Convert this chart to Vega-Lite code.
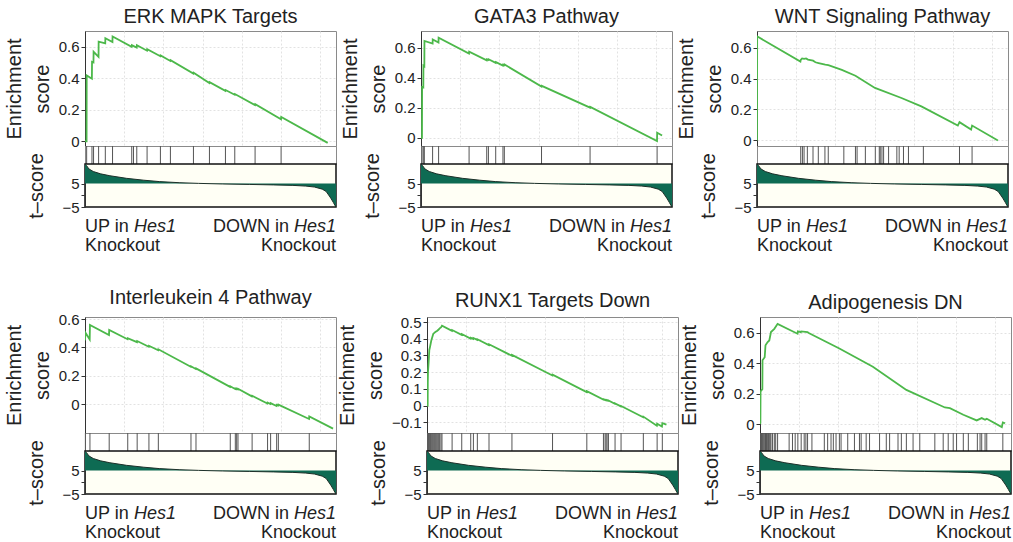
{
"$schema": "https://vega.github.io/schema/vega-lite/v6.json",
"background": "white",
"padding": {"left": 3, "top": 6, "right": 0, "bottom": 0},
"spacing": 31,
"config": {
  "font": "Liberation Sans",
  "view": {"stroke": "#8a8a8a"},
  "title": {"fontSize": 20, "fontWeight": "normal", "offset": 4, "color": "#222", "font": "Liberation Sans"},
  "axis": {"labelFont": "Liberation Sans", "labelFontSize": 15, "labelColor": "#222", "titleFont": "Liberation Sans", "titleFontSize": 20, "titleFontWeight": "normal", "titleColor": "#222", "tickColor": "#333", "tickSize": 4, "domainColor": "#333", "gridColor": "#e2e2e2", "gridDash": [2, 2], "labelPadding": 2},
  "text": {"font": "Liberation Sans", "fontSize": 18, "color": "#222"}
},
"datasets": {
  "labels": [{"k":"L1","t":"UP in","line":1},{"k":"L1i","t":"Hes1","line":1},{"k":"L2","t":"Knockout","line":2},{"k":"R1","t":"DOWN in","line":1},{"k":"R1i","t":"Hes1","line":1},{"k":"R2","t":"Knockout","line":2}],
  "tscore": [{"x":0,"t":13.3},{"x":40,"t":12.6},{"x":100,"t":11.2},{"x":211,"t":10.1},{"x":400,"t":9.1},{"x":635,"t":8.3},{"x":1059,"t":7.2},{"x":1500,"t":6.4},{"x":1905,"t":5.8},{"x":2400,"t":5.35},{"x":2900,"t":5.05},{"x":3500,"t":4.8},{"x":4200,"t":4.6},{"x":4800,"t":4.4},{"x":5300,"t":4.2},{"x":5630,"t":3.9},{"x":5850,"t":3.5},{"x":6050,"t":2.6},{"x":6150,"t":1.6},{"x":6266,"t":-1.2},{"x":6330,"t":-3},{"x":6380,"t":-4.5},{"x":6400,"t":-5}],
  "es": [
{"p":1,"x":0,"y":0},{"p":1,"x":40,"y":0},{"p":1,"x":43,"y":0.418},{"p":1,"x":176,"y":0.397},{"p":1,"x":179,"y":0.504},{"p":1,"x":216,"y":0.5},{"p":1,"x":219,"y":0.568},{"p":1,"x":345,"y":0.536},{"p":1,"x":348,"y":0.633},{"p":1,"x":516,"y":0.622},{"p":1,"x":519,"y":0.654},{"p":1,"x":700,"y":0.63},{"p":1,"x":703,"y":0.665},{"p":1,"x":1190,"y":0.6},{"p":1,"x":1195,"y":0.61},{"p":1,"x":1318,"y":0.595},{"p":1,"x":1323,"y":0.61},{"p":1,"x":1581,"y":0.575},{"p":1,"x":1586,"y":0.585},{"p":1,"x":1921,"y":0.54},{"p":1,"x":1926,"y":0.545},{"p":1,"x":2176,"y":0.51},{"p":1,"x":2181,"y":0.515},{"p":1,"x":2763,"y":0.43},{"p":1,"x":2768,"y":0.435},{"p":1,"x":3171,"y":0.37},{"p":1,"x":3176,"y":0.375},{"p":1,"x":3579,"y":0.32},{"p":1,"x":3584,"y":0.325},{"p":1,"x":3817,"y":0.295},{"p":1,"x":3822,"y":0.3},{"p":1,"x":4335,"y":0.23},{"p":1,"x":4340,"y":0.235},{"p":1,"x":4998,"y":0.14},{"p":1,"x":5003,"y":0.155},{"p":1,"x":6188,"y":-0.01},
{"p":2,"x":0,"y":0},{"p":2,"x":25,"y":0},{"p":2,"x":28,"y":0.338},{"p":2,"x":59,"y":0.335},{"p":2,"x":62,"y":0.48},{"p":2,"x":85,"y":0.475},{"p":2,"x":88,"y":0.644},{"p":2,"x":296,"y":0.626},{"p":2,"x":299,"y":0.654},{"p":2,"x":446,"y":0.633},{"p":2,"x":449,"y":0.666},{"p":2,"x":1224,"y":0.56},{"p":2,"x":1228,"y":0.572},{"p":2,"x":1676,"y":0.515},{"p":2,"x":1680,"y":0.522},{"p":2,"x":1719,"y":0.517},{"p":2,"x":1723,"y":0.522},{"p":2,"x":1905,"y":0.498},{"p":2,"x":1910,"y":0.503},{"p":2,"x":2090,"y":0.48},{"p":2,"x":2094,"y":0.486},{"p":2,"x":2125,"y":0.482},{"p":2,"x":2129,"y":0.487},{"p":2,"x":3073,"y":0.34},{"p":2,"x":3078,"y":0.345},{"p":2,"x":4311,"y":0.2},{"p":2,"x":4315,"y":0.205},{"p":2,"x":6018,"y":-0.022},{"p":2,"x":6022,"y":0.033},{"p":2,"x":6147,"y":0.015},
{"p":3,"x":0,"y":0},{"p":3,"x":4,"y":0.672},{"p":3,"x":1107,"y":0.51},{"p":3,"x":1115,"y":0.52},{"p":3,"x":1150,"y":0.53},{"p":3,"x":1200,"y":0.527},{"p":3,"x":1250,"y":0.53},{"p":3,"x":1300,"y":0.522},{"p":3,"x":1430,"y":0.515},{"p":3,"x":1490,"y":0.505},{"p":3,"x":1570,"y":0.5},{"p":3,"x":1740,"y":0.49},{"p":3,"x":1820,"y":0.487},{"p":3,"x":2163,"y":0.456},{"p":3,"x":2510,"y":0.418},{"p":3,"x":3008,"y":0.339},{"p":3,"x":3684,"y":0.274},{"p":3,"x":4191,"y":0.22},{"p":3,"x":5121,"y":0.096},{"p":3,"x":5163,"y":0.118},{"p":3,"x":5459,"y":0.07},{"p":3,"x":5484,"y":0.096},{"p":3,"x":6143,"y":0},
{"p":4,"x":0,"y":0.45},{"p":4,"x":10,"y":0.505},{"p":4,"x":120,"y":0.456},{"p":4,"x":126,"y":0.558},{"p":4,"x":612,"y":0.488},{"p":4,"x":617,"y":0.523},{"p":4,"x":1085,"y":0.458},{"p":4,"x":1090,"y":0.465},{"p":4,"x":1325,"y":0.437},{"p":4,"x":1330,"y":0.445},{"p":4,"x":1625,"y":0.405},{"p":4,"x":1630,"y":0.412},{"p":4,"x":1865,"y":0.38},{"p":4,"x":1870,"y":0.387},{"p":4,"x":2697,"y":0.263},{"p":4,"x":2702,"y":0.267},{"p":4,"x":2825,"y":0.248},{"p":4,"x":2830,"y":0.252},{"p":4,"x":3699,"y":0.121},{"p":4,"x":3704,"y":0.125},{"p":4,"x":3828,"y":0.106},{"p":4,"x":3833,"y":0.11},{"p":4,"x":3862,"y":0.105},{"p":4,"x":3867,"y":0.109},{"p":4,"x":3896,"y":0.104},{"p":4,"x":3901,"y":0.108},{"p":4,"x":4256,"y":0.054},{"p":4,"x":4261,"y":0.058},{"p":4,"x":4650,"y":0.004},{"p":4,"x":4655,"y":0.01},{"p":4,"x":4728,"y":0.0},{"p":4,"x":4733,"y":0.006},{"p":4,"x":4882,"y":-0.014},{"p":4,"x":4887,"y":-0.006},{"p":4,"x":4925,"y":-0.011},{"p":4,"x":4930,"y":-0.004},{"p":4,"x":5713,"y":-0.106},{"p":4,"x":5718,"y":-0.088},{"p":4,"x":6325,"y":-0.174},
{"p":5,"x":0,"y":0},{"p":5,"x":17,"y":0},{"p":5,"x":20,"y":0.137},{"p":5,"x":25,"y":0.2},{"p":5,"x":42,"y":0.26},{"p":5,"x":59,"y":0.333},{"p":5,"x":76,"y":0.35},{"p":5,"x":93,"y":0.37},{"p":5,"x":110,"y":0.39},{"p":5,"x":136,"y":0.41},{"p":5,"x":161,"y":0.43},{"p":5,"x":187,"y":0.435},{"p":5,"x":212,"y":0.44},{"p":5,"x":263,"y":0.448},{"p":5,"x":297,"y":0.455},{"p":5,"x":322,"y":0.462},{"p":5,"x":356,"y":0.468},{"p":5,"x":382,"y":0.478},{"p":5,"x":636,"y":0.447},{"p":5,"x":640,"y":0.452},{"p":5,"x":882,"y":0.423},{"p":5,"x":886,"y":0.428},{"p":5,"x":1111,"y":0.401},{"p":5,"x":1115,"y":0.406},{"p":5,"x":1179,"y":0.399},{"p":5,"x":1183,"y":0.404},{"p":5,"x":1280,"y":0.393},{"p":5,"x":1284,"y":0.397},{"p":5,"x":1577,"y":0.362},{"p":5,"x":1581,"y":0.367},{"p":5,"x":2162,"y":0.298},{"p":5,"x":2166,"y":0.303},{"p":5,"x":3197,"y":0.18},{"p":5,"x":3201,"y":0.185},{"p":5,"x":4071,"y":0.081},{"p":5,"x":4075,"y":0.086},{"p":5,"x":4495,"y":0.036},{"p":5,"x":4499,"y":0.038},{"p":5,"x":4537,"y":0.033},{"p":5,"x":4541,"y":0.035},{"p":5,"x":4562,"y":0.032},{"p":5,"x":4566,"y":0.034},{"p":5,"x":4588,"y":0.031},{"p":5,"x":4592,"y":0.033},{"p":5,"x":4622,"y":0.029},{"p":5,"x":4626,"y":0.031},{"p":5,"x":4791,"y":0.011},{"p":5,"x":4795,"y":0.013},{"p":5,"x":4944,"y":-0.005},{"p":5,"x":4948,"y":-0.002},{"p":5,"x":5512,"y":-0.07},{"p":5,"x":5516,"y":-0.066},{"p":5,"x":5860,"y":-0.12},{"p":5,"x":5868,"y":-0.108},{"p":5,"x":5990,"y":-0.125},{"p":5,"x":6000,"y":-0.105},{"p":5,"x":6106,"y":-0.114},
{"p":6,"x":0,"y":0},{"p":6,"x":10,"y":0.007},{"p":6,"x":14,"y":0.214},{"p":6,"x":60,"y":0.23},{"p":6,"x":64,"y":0.42},{"p":6,"x":120,"y":0.44},{"p":6,"x":140,"y":0.519},{"p":6,"x":195,"y":0.54},{"p":6,"x":237,"y":0.55},{"p":6,"x":280,"y":0.606},{"p":6,"x":365,"y":0.627},{"p":6,"x":449,"y":0.66},{"p":6,"x":957,"y":0.595},{"p":6,"x":965,"y":0.61},{"p":6,"x":1041,"y":0.605},{"p":6,"x":1050,"y":0.61},{"p":6,"x":1211,"y":0.605},{"p":6,"x":1255,"y":0.598},{"p":6,"x":2024,"y":0.498},{"p":6,"x":2878,"y":0.378},{"p":6,"x":3732,"y":0.225},{"p":6,"x":4714,"y":0.109},{"p":6,"x":4842,"y":0.105},{"p":6,"x":5184,"y":0.061},{"p":6,"x":5525,"y":0.024},{"p":6,"x":5653,"y":0.039},{"p":6,"x":5739,"y":0.028},{"p":6,"x":5782,"y":0.035},{"p":6,"x":6166,"y":-0.02},{"p":6,"x":6192,"y":0.011},{"p":6,"x":6251,"y":0.005}
  ],
  "hits": [
{"p":1,"x":42},{"p":1,"x":178},{"p":1,"x":218},{"p":1,"x":347},{"p":1,"x":518},{"p":1,"x":702},{"p":1,"x":1192},{"p":1,"x":1236},{"p":1,"x":1320},{"p":1,"x":1583},{"p":1,"x":1923},{"p":1,"x":2178},{"p":1,"x":2765},{"p":1,"x":3173},{"p":1,"x":3581},{"p":1,"x":3819},{"p":1,"x":4337},{"p":1,"x":5000},
{"p":2,"x":25},{"p":2,"x":59},{"p":2,"x":85},{"p":2,"x":296},{"p":2,"x":449},{"p":2,"x":1226},{"p":2,"x":1676},{"p":2,"x":1719},{"p":2,"x":1905},{"p":2,"x":2090},{"p":2,"x":2125},{"p":2,"x":3073},{"p":2,"x":4311},{"p":2,"x":6020},
{"p":3,"x":1115},{"p":3,"x":1158},{"p":3,"x":1200},{"p":3,"x":1284},{"p":3,"x":1428},{"p":3,"x":1563},{"p":3,"x":1732},{"p":3,"x":1817},{"p":3,"x":2214},{"p":3,"x":2510},{"p":3,"x":2552},{"p":3,"x":2763},{"p":3,"x":3017},{"p":3,"x":3118},{"p":3,"x":3143},{"p":3,"x":3186},{"p":3,"x":3228},{"p":3,"x":3355},{"p":3,"x":3566},{"p":3,"x":3625},{"p":3,"x":3735},{"p":3,"x":3862},{"p":3,"x":4242},{"p":3,"x":5163},{"p":3,"x":5484},
{"p":4,"x":10},{"p":4,"x":126},{"p":4,"x":617},{"p":4,"x":1090},{"p":4,"x":1330},{"p":4,"x":1630},{"p":4,"x":1870},{"p":4,"x":2702},{"p":4,"x":2830},{"p":4,"x":3704},{"p":4,"x":3833},{"p":4,"x":3867},{"p":4,"x":3901},{"p":4,"x":4261},{"p":4,"x":4655},{"p":4,"x":4733},{"p":4,"x":4887},{"p":4,"x":4930},{"p":4,"x":5718},
{"p":5,"x":20},{"p":5,"x":25},{"p":5,"x":42},{"p":5,"x":59},{"p":5,"x":76},{"p":5,"x":93},{"p":5,"x":110},{"p":5,"x":136},{"p":5,"x":161},{"p":5,"x":187},{"p":5,"x":212},{"p":5,"x":237},{"p":5,"x":263},{"p":5,"x":297},{"p":5,"x":322},{"p":5,"x":356},{"p":5,"x":382},{"p":5,"x":640},{"p":5,"x":886},{"p":5,"x":1115},{"p":5,"x":1183},{"p":5,"x":1284},{"p":5,"x":1581},{"p":5,"x":2166},{"p":5,"x":3201},{"p":5,"x":4075},{"p":5,"x":4499},{"p":5,"x":4541},{"p":5,"x":4566},{"p":5,"x":4592},{"p":5,"x":4626},{"p":5,"x":4795},{"p":5,"x":4948},{"p":5,"x":5516},{"p":5,"x":5868},{"p":5,"x":6000},
{"p":6,"x":14},{"p":6,"x":25},{"p":6,"x":40},{"p":6,"x":60},{"p":6,"x":75},{"p":6,"x":95},{"p":6,"x":120},{"p":6,"x":140},{"p":6,"x":165},{"p":6,"x":195},{"p":6,"x":215},{"p":6,"x":237},{"p":6,"x":260},{"p":6,"x":280},{"p":6,"x":320},{"p":6,"x":365},{"p":6,"x":400},{"p":6,"x":449},{"p":6,"x":743},{"p":6,"x":828},{"p":6,"x":897},{"p":6,"x":965},{"p":6,"x":1050},{"p":6,"x":1127},{"p":6,"x":1170},{"p":6,"x":1213},{"p":6,"x":1324},{"p":6,"x":1640},{"p":6,"x":1725},{"p":6,"x":1811},{"p":6,"x":1870},{"p":6,"x":1939},{"p":6,"x":2024},{"p":6,"x":2067},{"p":6,"x":2237},{"p":6,"x":2408},{"p":6,"x":2536},{"p":6,"x":2579},{"p":6,"x":2707},{"p":6,"x":2793},{"p":6,"x":3049},{"p":6,"x":3220},{"p":6,"x":3305},{"p":6,"x":3519},{"p":6,"x":3604},{"p":6,"x":3732},{"p":6,"x":3903},{"p":6,"x":4074},{"p":6,"x":4458},{"p":6,"x":4671},{"p":6,"x":4799},{"p":6,"x":4927},{"p":6,"x":5012},{"p":6,"x":5184},{"p":6,"x":5312},{"p":6,"x":5542},{"p":6,"x":5611},{"p":6,"x":5653},{"p":6,"x":5739},{"p":6,"x":5782},{"p":6,"x":6192}
  ]
},
"vconcat": [
{"hconcat": [
 {"spacing": 0, "bounds": "flush", "resolve": {"scale": {"x": "independent", "y": "independent"}}, "vconcat": [
  {"width": 251, "height": 115, "title": "ERK MAPK Targets", "data": {"name": "es"}, "transform": [{"filter": "datum.p==1"}], "mark": {"type": "line", "color": "#4cb84a", "strokeWidth": 1.8, "clip": true},
    "encoding": {"x": {"field": "x", "type": "quantitative", "scale": {"domain": [0, 6400], "nice": false}, "axis": {"values": [1000,2000,3000,4000,5000,6000], "labels": false, "ticks": false, "domain": false, "title": null, "grid": true}},
     "y": {"field": "y", "type": "quantitative", "scale": {"domain": [-0.03, 0.7], "nice": false, "zero": false}, "axis": {"values": [0,0.2,0.4,0.6], "format": ".1~f", "title": ["Enrichment", "score"], "titleLineHeight": 28, "titlePadding": 6, "grid": true}}}},
  {"width": 251, "height": 18, "data": {"name": "hits"}, "transform": [{"filter": "datum.p==1"}], "mark": {"type": "rule", "color": "#555", "strokeWidth": 1}, "encoding": {"x": {"field": "x", "type": "quantitative", "scale": {"domain": [0, 6400], "nice": false}, "axis": null}}},
  {"width": 251, "height": 43, "view": {"fill": "#fffff5", "stroke": "#111", "strokeWidth": 1.5}, "data": {"name": "tscore"}, "mark": {"type": "area", "color": "#0e6b53", "opacity": 1, "line": {"color": "#1d3029", "strokeWidth": 1}},
   "encoding": {"x": {"field": "x", "type": "quantitative", "scale": {"domain": [0, 6400], "nice": false}, "axis": null}, "y": {"field": "t", "type": "quantitative", "scale": {"domain": [-5, 13.3], "nice": false, "zero": false}, "axis": {"values": [-5, 0, 5], "labelExpr": "datum.value==5 ? '5' : (datum.value==-5 ? '−5' : '')", "title": "t–score", "titlePadding": 15, "grid": false}}, "y2": {"datum": 5}}},
  {"width": 251, "height": 45, "view": {"stroke": null}, "data": {"name": "labels"}, "layer": [
   {"transform": [{"filter": "datum.k=='L1' || datum.k=='L2'"}], "mark": {"type": "text", "align": "left", "baseline": "middle"}, "encoding": {"x": {"datum": 0, "type": "quantitative", "scale": {"domain": [0, 6400], "nice": false}, "axis": null}, "y": {"field": "line", "type": "quantitative", "scale": {"domain": [0, 2.3], "reverse": true, "nice": false, "zero": false}, "axis": null}, "text": {"field": "t"}}},
   {"transform": [{"filter": "datum.k=='L1i'"}], "mark": {"type": "text", "align": "left", "baseline": "middle", "fontStyle": "italic", "dx": 49}, "encoding": {"x": {"datum": 0, "type": "quantitative"}, "y": {"field": "line", "type": "quantitative"}, "text": {"field": "t"}}},
   {"transform": [{"filter": "datum.k=='R2'"}], "mark": {"type": "text", "align": "right", "baseline": "middle"}, "encoding": {"x": {"datum": 6400, "type": "quantitative"}, "y": {"field": "line", "type": "quantitative"}, "text": {"field": "t"}}},
   {"transform": [{"filter": "datum.k=='R1i'"}], "mark": {"type": "text", "align": "right", "baseline": "middle", "fontStyle": "italic"}, "encoding": {"x": {"datum": 6400, "type": "quantitative"}, "y": {"field": "line", "type": "quantitative"}, "text": {"field": "t"}}},
   {"transform": [{"filter": "datum.k=='R1'"}], "mark": {"type": "text", "align": "right", "baseline": "middle", "dx": -47}, "encoding": {"x": {"datum": 6400, "type": "quantitative"}, "y": {"field": "line", "type": "quantitative"}, "text": {"field": "t"}}}
  ]}
 ]},
 {"spacing": 0, "bounds": "flush", "resolve": {"scale": {"x": "independent", "y": "independent"}}, "vconcat": [
  {"width": 251, "height": 115, "title": "GATA3 Pathway", "data": {"name": "es"}, "transform": [{"filter": "datum.p==2"}], "mark": {"type": "line", "color": "#4cb84a", "strokeWidth": 1.8, "clip": true},
    "encoding": {"x": {"field": "x", "type": "quantitative", "scale": {"domain": [0, 6400], "nice": false}, "axis": {"values": [1000,2000,3000,4000,5000,6000], "labels": false, "ticks": false, "domain": false, "title": null, "grid": true}},
     "y": {"field": "y", "type": "quantitative", "scale": {"domain": [-0.055, 0.71], "nice": false, "zero": false}, "axis": {"values": [0,0.2,0.4,0.6], "format": ".1~f", "title": ["Enrichment", "score"], "titleLineHeight": 28, "titlePadding": 6, "grid": true}}}},
  {"width": 251, "height": 18, "data": {"name": "hits"}, "transform": [{"filter": "datum.p==2"}], "mark": {"type": "rule", "color": "#555", "strokeWidth": 1}, "encoding": {"x": {"field": "x", "type": "quantitative", "scale": {"domain": [0, 6400], "nice": false}, "axis": null}}},
  {"width": 251, "height": 43, "view": {"fill": "#fffff5", "stroke": "#111", "strokeWidth": 1.5}, "data": {"name": "tscore"}, "mark": {"type": "area", "color": "#0e6b53", "opacity": 1, "line": {"color": "#1d3029", "strokeWidth": 1}},
   "encoding": {"x": {"field": "x", "type": "quantitative", "scale": {"domain": [0, 6400], "nice": false}, "axis": null}, "y": {"field": "t", "type": "quantitative", "scale": {"domain": [-5, 13.3], "nice": false, "zero": false}, "axis": {"values": [-5, 0, 5], "labelExpr": "datum.value==5 ? '5' : (datum.value==-5 ? '−5' : '')", "title": "t–score", "titlePadding": 15, "grid": false}}, "y2": {"datum": 5}}},
  {"width": 251, "height": 45, "view": {"stroke": null}, "data": {"name": "labels"}, "layer": [
   {"transform": [{"filter": "datum.k=='L1' || datum.k=='L2'"}], "mark": {"type": "text", "align": "left", "baseline": "middle"}, "encoding": {"x": {"datum": 0, "type": "quantitative", "scale": {"domain": [0, 6400], "nice": false}, "axis": null}, "y": {"field": "line", "type": "quantitative", "scale": {"domain": [0, 2.3], "reverse": true, "nice": false, "zero": false}, "axis": null}, "text": {"field": "t"}}},
   {"transform": [{"filter": "datum.k=='L1i'"}], "mark": {"type": "text", "align": "left", "baseline": "middle", "fontStyle": "italic", "dx": 49}, "encoding": {"x": {"datum": 0, "type": "quantitative"}, "y": {"field": "line", "type": "quantitative"}, "text": {"field": "t"}}},
   {"transform": [{"filter": "datum.k=='R2'"}], "mark": {"type": "text", "align": "right", "baseline": "middle"}, "encoding": {"x": {"datum": 6400, "type": "quantitative"}, "y": {"field": "line", "type": "quantitative"}, "text": {"field": "t"}}},
   {"transform": [{"filter": "datum.k=='R1i'"}], "mark": {"type": "text", "align": "right", "baseline": "middle", "fontStyle": "italic"}, "encoding": {"x": {"datum": 6400, "type": "quantitative"}, "y": {"field": "line", "type": "quantitative"}, "text": {"field": "t"}}},
   {"transform": [{"filter": "datum.k=='R1'"}], "mark": {"type": "text", "align": "right", "baseline": "middle", "dx": -47}, "encoding": {"x": {"datum": 6400, "type": "quantitative"}, "y": {"field": "line", "type": "quantitative"}, "text": {"field": "t"}}}
  ]}
 ]},
 {"spacing": 0, "bounds": "flush", "resolve": {"scale": {"x": "independent", "y": "independent"}}, "vconcat": [
  {"width": 251, "height": 115, "title": "WNT Signaling Pathway", "data": {"name": "es"}, "transform": [{"filter": "datum.p==3"}], "mark": {"type": "line", "color": "#4cb84a", "strokeWidth": 1.8, "clip": true},
    "encoding": {"x": {"field": "x", "type": "quantitative", "scale": {"domain": [0, 6400], "nice": false}, "axis": {"values": [1000,2000,3000,4000,5000,6000], "labels": false, "ticks": false, "domain": false, "title": null, "grid": true}},
     "y": {"field": "y", "type": "quantitative", "scale": {"domain": [-0.036, 0.707], "nice": false, "zero": false}, "axis": {"values": [0,0.2,0.4,0.6], "format": ".1~f", "title": ["Enrichment", "score"], "titleLineHeight": 28, "titlePadding": 6, "grid": true}}}},
  {"width": 251, "height": 18, "data": {"name": "hits"}, "transform": [{"filter": "datum.p==3"}], "mark": {"type": "rule", "color": "#555", "strokeWidth": 1}, "encoding": {"x": {"field": "x", "type": "quantitative", "scale": {"domain": [0, 6400], "nice": false}, "axis": null}}},
  {"width": 251, "height": 43, "view": {"fill": "#fffff5", "stroke": "#111", "strokeWidth": 1.5}, "data": {"name": "tscore"}, "mark": {"type": "area", "color": "#0e6b53", "opacity": 1, "line": {"color": "#1d3029", "strokeWidth": 1}},
   "encoding": {"x": {"field": "x", "type": "quantitative", "scale": {"domain": [0, 6400], "nice": false}, "axis": null}, "y": {"field": "t", "type": "quantitative", "scale": {"domain": [-5, 13.3], "nice": false, "zero": false}, "axis": {"values": [-5, 0, 5], "labelExpr": "datum.value==5 ? '5' : (datum.value==-5 ? '−5' : '')", "title": "t–score", "titlePadding": 15, "grid": false}}, "y2": {"datum": 5}}},
  {"width": 251, "height": 45, "view": {"stroke": null}, "data": {"name": "labels"}, "layer": [
   {"transform": [{"filter": "datum.k=='L1' || datum.k=='L2'"}], "mark": {"type": "text", "align": "left", "baseline": "middle"}, "encoding": {"x": {"datum": 0, "type": "quantitative", "scale": {"domain": [0, 6400], "nice": false}, "axis": null}, "y": {"field": "line", "type": "quantitative", "scale": {"domain": [0, 2.3], "reverse": true, "nice": false, "zero": false}, "axis": null}, "text": {"field": "t"}}},
   {"transform": [{"filter": "datum.k=='L1i'"}], "mark": {"type": "text", "align": "left", "baseline": "middle", "fontStyle": "italic", "dx": 49}, "encoding": {"x": {"datum": 0, "type": "quantitative"}, "y": {"field": "line", "type": "quantitative"}, "text": {"field": "t"}}},
   {"transform": [{"filter": "datum.k=='R2'"}], "mark": {"type": "text", "align": "right", "baseline": "middle"}, "encoding": {"x": {"datum": 6400, "type": "quantitative"}, "y": {"field": "line", "type": "quantitative"}, "text": {"field": "t"}}},
   {"transform": [{"filter": "datum.k=='R1i'"}], "mark": {"type": "text", "align": "right", "baseline": "middle", "fontStyle": "italic"}, "encoding": {"x": {"datum": 6400, "type": "quantitative"}, "y": {"field": "line", "type": "quantitative"}, "text": {"field": "t"}}},
   {"transform": [{"filter": "datum.k=='R1'"}], "mark": {"type": "text", "align": "right", "baseline": "middle", "dx": -47}, "encoding": {"x": {"datum": 6400, "type": "quantitative"}, "y": {"field": "line", "type": "quantitative"}, "text": {"field": "t"}}}
  ]}
 ]}
], "spacing": 0},
{"hconcat": [
 {"spacing": 0, "bounds": "flush", "resolve": {"scale": {"x": "independent", "y": "independent"}}, "vconcat": [
  {"width": 251, "height": 116, "title": "Interleukein 4 Pathway", "data": {"name": "es"}, "transform": [{"filter": "datum.p==4"}], "mark": {"type": "line", "color": "#4cb84a", "strokeWidth": 1.8, "clip": true},
    "encoding": {"x": {"field": "x", "type": "quantitative", "scale": {"domain": [0, 6400], "nice": false}, "axis": {"values": [1000,2000,3000,4000,5000,6000], "labels": false, "ticks": false, "domain": false, "title": null, "grid": true}},
     "y": {"field": "y", "type": "quantitative", "scale": {"domain": [-0.205, 0.615], "nice": false, "zero": false}, "axis": {"values": [0,0.2,0.4,0.6], "format": ".1~f", "title": ["Enrichment", "score"], "titleLineHeight": 28, "titlePadding": 6, "grid": true}}}},
  {"width": 251, "height": 18, "data": {"name": "hits"}, "transform": [{"filter": "datum.p==4"}], "mark": {"type": "rule", "color": "#555", "strokeWidth": 1}, "encoding": {"x": {"field": "x", "type": "quantitative", "scale": {"domain": [0, 6400], "nice": false}, "axis": null}}},
  {"width": 251, "height": 43, "view": {"fill": "#fffff5", "stroke": "#111", "strokeWidth": 1.5}, "data": {"name": "tscore"}, "mark": {"type": "area", "color": "#0e6b53", "opacity": 1, "line": {"color": "#1d3029", "strokeWidth": 1}},
   "encoding": {"x": {"field": "x", "type": "quantitative", "scale": {"domain": [0, 6400], "nice": false}, "axis": null}, "y": {"field": "t", "type": "quantitative", "scale": {"domain": [-5, 13.3], "nice": false, "zero": false}, "axis": {"values": [-5, 0, 5], "labelExpr": "datum.value==5 ? '5' : (datum.value==-5 ? '−5' : '')", "title": "t–score", "titlePadding": 15, "grid": false}}, "y2": {"datum": 5}}},
  {"width": 251, "height": 45, "view": {"stroke": null}, "data": {"name": "labels"}, "layer": [
   {"transform": [{"filter": "datum.k=='L1' || datum.k=='L2'"}], "mark": {"type": "text", "align": "left", "baseline": "middle"}, "encoding": {"x": {"datum": 0, "type": "quantitative", "scale": {"domain": [0, 6400], "nice": false}, "axis": null}, "y": {"field": "line", "type": "quantitative", "scale": {"domain": [0, 2.3], "reverse": true, "nice": false, "zero": false}, "axis": null}, "text": {"field": "t"}}},
   {"transform": [{"filter": "datum.k=='L1i'"}], "mark": {"type": "text", "align": "left", "baseline": "middle", "fontStyle": "italic", "dx": 49}, "encoding": {"x": {"datum": 0, "type": "quantitative"}, "y": {"field": "line", "type": "quantitative"}, "text": {"field": "t"}}},
   {"transform": [{"filter": "datum.k=='R2'"}], "mark": {"type": "text", "align": "right", "baseline": "middle"}, "encoding": {"x": {"datum": 6400, "type": "quantitative"}, "y": {"field": "line", "type": "quantitative"}, "text": {"field": "t"}}},
   {"transform": [{"filter": "datum.k=='R1i'"}], "mark": {"type": "text", "align": "right", "baseline": "middle", "fontStyle": "italic"}, "encoding": {"x": {"datum": 6400, "type": "quantitative"}, "y": {"field": "line", "type": "quantitative"}, "text": {"field": "t"}}},
   {"transform": [{"filter": "datum.k=='R1'"}], "mark": {"type": "text", "align": "right", "baseline": "middle", "dx": -47}, "encoding": {"x": {"datum": 6400, "type": "quantitative"}, "y": {"field": "line", "type": "quantitative"}, "text": {"field": "t"}}}
  ]}
 ]},
 {"spacing": 0, "bounds": "flush", "resolve": {"scale": {"x": "independent", "y": "independent"}}, "vconcat": [
  {"width": 251, "height": 116, "title": "RUNX1 Targets Down", "data": {"name": "es"}, "transform": [{"filter": "datum.p==5"}], "mark": {"type": "line", "color": "#4cb84a", "strokeWidth": 1.8, "clip": true},
    "encoding": {"x": {"field": "x", "type": "quantitative", "scale": {"domain": [0, 6400], "nice": false}, "axis": {"values": [1000,2000,3000,4000,5000,6000], "labels": false, "ticks": false, "domain": false, "title": null, "grid": true}},
     "y": {"field": "y", "type": "quantitative", "scale": {"domain": [-0.164, 0.53], "nice": false, "zero": false}, "axis": {"values": [-0.1,0,0.1,0.2,0.3,0.4,0.5], "format": ".1~f", "title": ["Enrichment", "score"], "titleLineHeight": 28, "titlePadding": 6, "grid": true}}}},
  {"width": 251, "height": 18, "data": {"name": "hits"}, "transform": [{"filter": "datum.p==5"}], "mark": {"type": "rule", "color": "#555", "strokeWidth": 1}, "encoding": {"x": {"field": "x", "type": "quantitative", "scale": {"domain": [0, 6400], "nice": false}, "axis": null}}},
  {"width": 251, "height": 43, "view": {"fill": "#fffff5", "stroke": "#111", "strokeWidth": 1.5}, "data": {"name": "tscore"}, "mark": {"type": "area", "color": "#0e6b53", "opacity": 1, "line": {"color": "#1d3029", "strokeWidth": 1}},
   "encoding": {"x": {"field": "x", "type": "quantitative", "scale": {"domain": [0, 6400], "nice": false}, "axis": null}, "y": {"field": "t", "type": "quantitative", "scale": {"domain": [-5, 13.3], "nice": false, "zero": false}, "axis": {"values": [-5, 0, 5], "labelExpr": "datum.value==5 ? '5' : (datum.value==-5 ? '−5' : '')", "title": "t–score", "titlePadding": 15, "grid": false}}, "y2": {"datum": 5}}},
  {"width": 251, "height": 45, "view": {"stroke": null}, "data": {"name": "labels"}, "layer": [
   {"transform": [{"filter": "datum.k=='L1' || datum.k=='L2'"}], "mark": {"type": "text", "align": "left", "baseline": "middle"}, "encoding": {"x": {"datum": 0, "type": "quantitative", "scale": {"domain": [0, 6400], "nice": false}, "axis": null}, "y": {"field": "line", "type": "quantitative", "scale": {"domain": [0, 2.3], "reverse": true, "nice": false, "zero": false}, "axis": null}, "text": {"field": "t"}}},
   {"transform": [{"filter": "datum.k=='L1i'"}], "mark": {"type": "text", "align": "left", "baseline": "middle", "fontStyle": "italic", "dx": 49}, "encoding": {"x": {"datum": 0, "type": "quantitative"}, "y": {"field": "line", "type": "quantitative"}, "text": {"field": "t"}}},
   {"transform": [{"filter": "datum.k=='R2'"}], "mark": {"type": "text", "align": "right", "baseline": "middle"}, "encoding": {"x": {"datum": 6400, "type": "quantitative"}, "y": {"field": "line", "type": "quantitative"}, "text": {"field": "t"}}},
   {"transform": [{"filter": "datum.k=='R1i'"}], "mark": {"type": "text", "align": "right", "baseline": "middle", "fontStyle": "italic"}, "encoding": {"x": {"datum": 6400, "type": "quantitative"}, "y": {"field": "line", "type": "quantitative"}, "text": {"field": "t"}}},
   {"transform": [{"filter": "datum.k=='R1'"}], "mark": {"type": "text", "align": "right", "baseline": "middle", "dx": -47}, "encoding": {"x": {"datum": 6400, "type": "quantitative"}, "y": {"field": "line", "type": "quantitative"}, "text": {"field": "t"}}}
  ]}
 ]},
 {"spacing": 0, "bounds": "flush", "resolve": {"scale": {"x": "independent", "y": "independent"}}, "vconcat": [
  {"width": 251, "height": 116, "title": "Adipogenesis DN", "data": {"name": "es"}, "transform": [{"filter": "datum.p==6"}], "mark": {"type": "line", "color": "#4cb84a", "strokeWidth": 1.8, "clip": true},
    "encoding": {"x": {"field": "x", "type": "quantitative", "scale": {"domain": [0, 6400], "nice": false}, "axis": {"values": [1000,2000,3000,4000,5000,6000], "labels": false, "ticks": false, "domain": false, "title": null, "grid": true}},
     "y": {"field": "y", "type": "quantitative", "scale": {"domain": [-0.059, 0.705], "nice": false, "zero": false}, "axis": {"values": [0,0.2,0.4,0.6], "format": ".1~f", "title": ["Enrichment", "score"], "titleLineHeight": 28, "titlePadding": 6, "grid": true}}}},
  {"width": 251, "height": 18, "data": {"name": "hits"}, "transform": [{"filter": "datum.p==6"}], "mark": {"type": "rule", "color": "#555", "strokeWidth": 1}, "encoding": {"x": {"field": "x", "type": "quantitative", "scale": {"domain": [0, 6400], "nice": false}, "axis": null}}},
  {"width": 251, "height": 43, "view": {"fill": "#fffff5", "stroke": "#111", "strokeWidth": 1.5}, "data": {"name": "tscore"}, "mark": {"type": "area", "color": "#0e6b53", "opacity": 1, "line": {"color": "#1d3029", "strokeWidth": 1}},
   "encoding": {"x": {"field": "x", "type": "quantitative", "scale": {"domain": [0, 6400], "nice": false}, "axis": null}, "y": {"field": "t", "type": "quantitative", "scale": {"domain": [-5, 13.3], "nice": false, "zero": false}, "axis": {"values": [-5, 0, 5], "labelExpr": "datum.value==5 ? '5' : (datum.value==-5 ? '−5' : '')", "title": "t–score", "titlePadding": 15, "grid": false}}, "y2": {"datum": 5}}},
  {"width": 251, "height": 45, "view": {"stroke": null}, "data": {"name": "labels"}, "layer": [
   {"transform": [{"filter": "datum.k=='L1' || datum.k=='L2'"}], "mark": {"type": "text", "align": "left", "baseline": "middle"}, "encoding": {"x": {"datum": 0, "type": "quantitative", "scale": {"domain": [0, 6400], "nice": false}, "axis": null}, "y": {"field": "line", "type": "quantitative", "scale": {"domain": [0, 2.3], "reverse": true, "nice": false, "zero": false}, "axis": null}, "text": {"field": "t"}}},
   {"transform": [{"filter": "datum.k=='L1i'"}], "mark": {"type": "text", "align": "left", "baseline": "middle", "fontStyle": "italic", "dx": 49}, "encoding": {"x": {"datum": 0, "type": "quantitative"}, "y": {"field": "line", "type": "quantitative"}, "text": {"field": "t"}}},
   {"transform": [{"filter": "datum.k=='R2'"}], "mark": {"type": "text", "align": "right", "baseline": "middle"}, "encoding": {"x": {"datum": 6400, "type": "quantitative"}, "y": {"field": "line", "type": "quantitative"}, "text": {"field": "t"}}},
   {"transform": [{"filter": "datum.k=='R1i'"}], "mark": {"type": "text", "align": "right", "baseline": "middle", "fontStyle": "italic"}, "encoding": {"x": {"datum": 6400, "type": "quantitative"}, "y": {"field": "line", "type": "quantitative"}, "text": {"field": "t"}}},
   {"transform": [{"filter": "datum.k=='R1'"}], "mark": {"type": "text", "align": "right", "baseline": "middle", "dx": -47}, "encoding": {"x": {"datum": 6400, "type": "quantitative"}, "y": {"field": "line", "type": "quantitative"}, "text": {"field": "t"}}}
  ]}
 ]}
], "spacing": -3}
]
}
